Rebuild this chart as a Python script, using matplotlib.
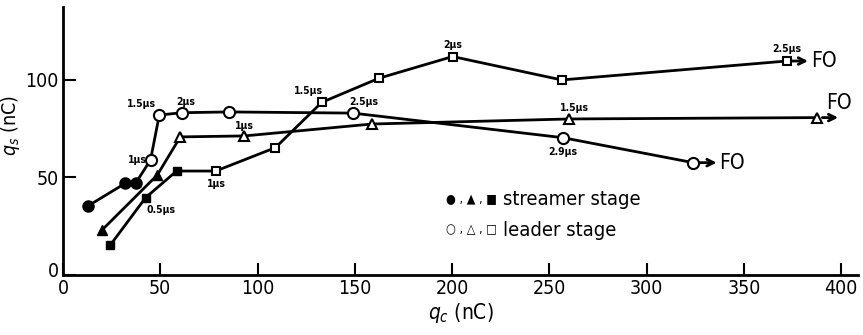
import matplotlib
matplotlib.use("Agg")
import matplotlib.pyplot as plt

plt.rcParams['font.family'] = ['DejaVu Sans']
plt.rcParams['font.stretch'] = 'condensed'

# charge data: qc (nC) vs qs (nC)
circ_streamer_x = [13, 32, 37.5]
circ_streamer_y = [35.5, 47, 47.3]
circ_leader_x = [45, 49.5, 61, 85.5, 149, 257, 324]
circ_leader_y = [59, 82, 83.2, 83.6, 83, 70.4, 57.6]

tri_streamer_x = [20, 48.5]
tri_streamer_y = [23, 51.3]
tri_leader_x = [60.3, 93.2, 158.7, 260.3, 387.5]
tri_leader_y = [70.8, 71.3, 77.4, 80, 80.7]

sq_streamer_x = [24.2, 42.5, 58.4]
sq_streamer_y = [15.2, 39.7, 53.3]
sq_leader_x = [78.5, 109.2, 133, 162.5, 200.3, 256.4, 372]
sq_leader_y = [53.3, 65.3, 88.5, 100.9, 112, 100, 109.7]

# where each curve's flashover arrow ends (qc)
fo_end_x = {'circ': 336, 'tri': 398.5, 'sq': 383}

# time labels: (series, point index, text, dx px, dy px, ha)
time_labels = [
    ('circ', 0, '1µs', -4, 0, 'right'),
    ('circ', 1, '1.5µs', -3, 11, 'right'),
    ('circ', 2, '2µs', 4, 11, 'center'),
    ('circ', 4, '2.5µs', 11, 11, 'center'),
    ('circ', 5, '2.9µs', 0, -14, 'center'),
    ('tri', 1, '1µs', 0, 10, 'center'),
    ('tri', 3, '1.5µs', 5, 11, 'center'),
    ('sq_s', 1, '0.5µs', 15, -12, 'center'),
    ('sq', 0, '1µs', 1, -13, 'center'),
    ('sq', 2, '1.5µs', -13, 11, 'center'),
    ('sq', 4, '2µs', 0, 12, 'center'),
    ('sq', 6, '2.5µs', 0, 12, 'center'),
]

fig = plt.figure(figsize=(8.63, 3.35), dpi=100)
ax = fig.add_axes([63 / 863, 60 / 335, 795 / 863, 268 / 335])

lw = 2.0
k = 'black'

series = {
    'circ': (circ_streamer_x, circ_streamer_y, circ_leader_x, circ_leader_y, 'o', 8),
    'tri': (tri_streamer_x, tri_streamer_y, tri_leader_x, tri_leader_y, '^', 7),
    'sq': (sq_streamer_x, sq_streamer_y, sq_leader_x, sq_leader_y, 's', 6),
}

for name, (sx, sy, lx, ly, m, ms) in series.items():
    # one continuous line through both stages
    ax.plot(sx + lx, sy + ly, color=k, lw=lw, zorder=2)
    ax.plot(sx, sy, ls='none', marker=m, ms=ms, color=k, zorder=3)
    ax.plot(lx, ly, ls='none', marker=m, ms=ms, mfc='white', mec=k,
            mew=1.5, zorder=3)
    # flashover arrow
    ax.annotate('', xy=(fo_end_x[name], ly[-1]), xytext=(lx[-1], ly[-1]),
                arrowprops=dict(arrowstyle='->', lw=lw, color=k,
                                shrinkA=4, shrinkB=0, mutation_scale=12),
                zorder=2)

ax.text(fo_end_x['circ'] + 1.5, circ_leader_y[-1], 'FO', fontsize=15,
        va='center', ha='left')
ax.text(fo_end_x['sq'] + 1.5, sq_leader_y[-1], 'FO', fontsize=15,
        va='center', ha='left')
ax.text(fo_end_x['tri'] - 6, tri_leader_y[-1] + 2.5, 'FO', fontsize=15,
        va='bottom', ha='left')

pts = {
    'circ': (circ_leader_x, circ_leader_y),
    'tri': (tri_leader_x, tri_leader_y),
    'sq': (sq_leader_x, sq_leader_y),
    'sq_s': (sq_streamer_x, sq_streamer_y),
}
for name, i, txt, dx, dy, ha in time_labels:
    x, y = pts[name]
    ax.annotate(txt, (x[i], y[i]), xytext=(dx, dy), textcoords='offset pixels',
                ha=ha, va='center', fontsize=7.5, fontweight='bold')

# key for filled / open symbols
ax.text(197, 38.5, '● , ▲ , ■', fontsize=9, va='center')
ax.text(226, 38.5, 'streamer stage', fontsize=14.5, va='center')
ax.text(197, 23, '○ , △ , □', fontsize=9, va='center')
ax.text(226, 23, 'leader stage', fontsize=14.5, va='center')

ax.set_xlim(0, 408.7)
ax.set_ylim(0, 137.4)
ax.set_xticks([0, 50, 100, 150, 200, 250, 300, 350, 400])
ax.set_yticks([0, 50, 100])
ax.set_yticklabels(['', '50', '100'])
ax.text(-2, 2, '0', fontsize=14, ha='right', va='center')
ax.tick_params(direction='in', length=9, width=1.5, labelsize=14, pad=3)
for s in ('top', 'right'):
    ax.spines[s].set_visible(False)
for s in ('left', 'bottom'):
    ax.spines[s].set_linewidth(2)

ax.set_xlabel(r'$q_c$ (nC)', fontsize=15, labelpad=2)
ax.set_ylabel(r'$q_s$ (nC)', fontsize=14)
ax.yaxis.set_label_coords(-0.052, 0.56)

fig.savefig('out.png', dpi=100)
